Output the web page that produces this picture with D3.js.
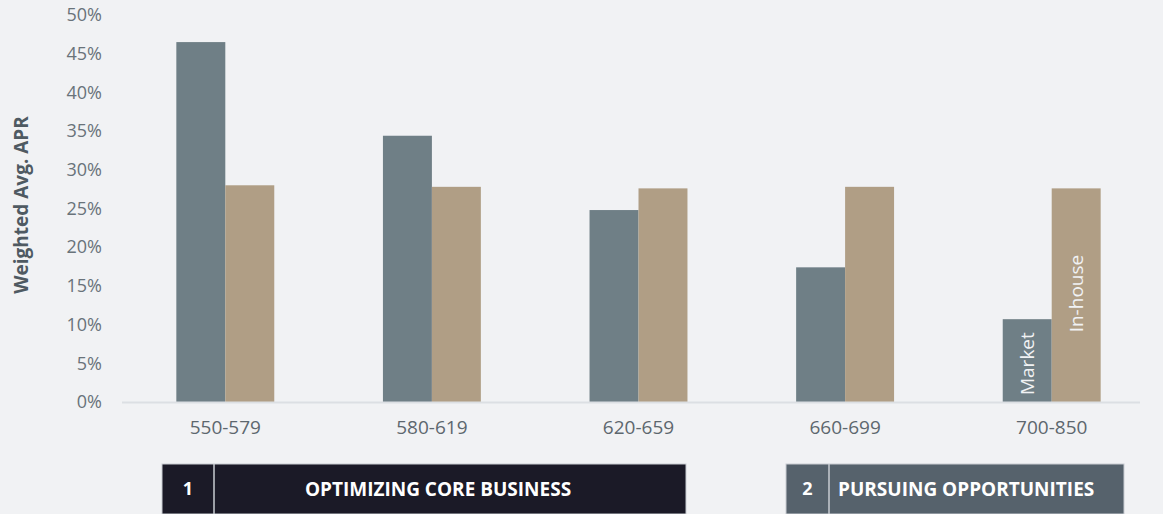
<!DOCTYPE html>
<html>
<head>
<meta charset="utf-8">
<script src="https://cdn.jsdelivr.net/npm/d3@7"></script>
<style>
  html, body { margin: 0; padding: 0; background: #f1f2f4; }
  svg { display: block; font-family: "Open Sans", "Noto Sans", sans-serif; }
</style>
</head>
<body>
<svg id="chart" width="1163" height="514"></svg>
<script>
// Credit score bands and weighted average APR (%) per source
const categories = ["550-579", "580-619", "620-659", "660-699", "700-850"];
const seriesNames = ["Market", "In-house"];
const marketValues = [46.5, 34.4, 24.8, 17.4, 10.7];
const inHouseValues = [28.0, 27.8, 27.6, 27.8, 27.6];
const yTicks = [0, 5, 10, 15, 20, 25, 30, 35, 40, 45, 50];

// Strategy groupings shown beneath the axis
const groupNumbers = ["1", "2"];
const groupTitles = ["OPTIMIZING CORE BUSINESS", "PURSUING OPPORTUNITIES"];

const colors = { "Market": "#6f7f86", "In-house": "#b09e85" };

const svg = d3.select("#chart");

const x0 = d3.scaleBand()
  .domain(categories)
  .range([122, 1155])
  .paddingInner(0.526)
  .paddingOuter(0.263);

const x1 = d3.scaleBand()
  .domain(seriesNames)
  .range([0, x0.bandwidth()]);

const y = d3.scaleLinear().domain([0, 50]).range([402, 15]);

const rows = categories.map((c, i) => ({
  category: c,
  values: [
    { key: "Market", value: marketValues[i] },
    { key: "In-house", value: inHouseValues[i] }
  ]
}));

// Y axis tick labels (no axis line)
const yAxis = svg.append("g")
  .attr("transform", "translate(102,0)")
  .call(d3.axisLeft(y).tickValues(yTicks).tickFormat(d => d + "%").tickSize(0).tickPadding(0));
yAxis.select(".domain").remove();
yAxis.selectAll("text")
  .attr("fill", "#69737a")
  .style("font-size", "18px")
  .style("font-family", "'Open Sans', sans-serif");

// Y axis title
svg.append("text")
  .attr("transform", "translate(21,205) rotate(-90)")
  .attr("text-anchor", "middle")
  .attr("dy", "0.35em")
  .attr("fill", "#4f5a62")
  .style("font-size", "19px")
  .style("font-weight", "700")
  .text("Weighted Avg. APR");

// Bars
const groups = svg.append("g").selectAll("g")
  .data(rows)
  .join("g")
  .attr("transform", d => `translate(${x0(d.category)},0)`);

groups.selectAll("rect")
  .data(d => d.values)
  .join("rect")
  .attr("x", d => x1(d.key))
  .attr("y", d => y(d.value))
  .attr("width", x1.bandwidth())
  .attr("height", d => y(0) - y(d.value))
  .attr("fill", d => colors[d.key]);

// Baseline
svg.append("line")
  .attr("x1", 122).attr("x2", 1140)
  .attr("y1", y(0) + 0.5).attr("y2", y(0) + 0.5)
  .attr("stroke", "#dcdfe3")
  .attr("stroke-width", 2);

// X axis labels
const xAxis = svg.append("g")
  .attr("transform", `translate(0,${y(0) + 18})`)
  .call(d3.axisBottom(x0).tickSize(0).tickPadding(0));
xAxis.select(".domain").remove();
xAxis.selectAll("text")
  .attr("fill", "#5d676e")
  .style("font-size", "19px")
  .style("font-family", "'Open Sans', sans-serif");

// In-bar series labels on the last category
const last = rows[rows.length - 1];
const labelOffsets = { "Market": 0.9, "In-house": 9.0 };
svg.append("g")
  .attr("transform", `translate(${x0(last.category)},0)`)
  .selectAll("text")
  .data(last.values)
  .join("text")
  .attr("transform", d => `translate(${x1(d.key) + x1.bandwidth() / 2},${y(labelOffsets[d.key])}) rotate(-90)`)
  .attr("dy", "0.35em")
  .attr("text-anchor", "start")
  .attr("fill", "#f1f2f4")
  .style("font-size", "19px")
  .text(d => d.key);

// Group banners
const banners = [
  { num: groupNumbers[0], title: groupTitles[0], x: 162, w: 524, split: 52, textX: 276, fill: "#1b1a27", anchor: "middle" },
  { num: groupNumbers[1], title: groupTitles[1], x: 786, w: 338, split: 43, textX: 52, fill: "#56626c", anchor: "start" }
];

const bannerG = svg.append("g").selectAll("g")
  .data(banners)
  .join("g")
  .attr("transform", d => `translate(${d.x},464)`);

bannerG.append("rect")
  .attr("width", d => d.w)
  .attr("height", 50)
  .attr("fill", d => d.fill)
  .attr("stroke", "#c9ccd2")
  .attr("stroke-width", 1);

bannerG.append("line")
  .attr("x1", d => d.split).attr("x2", d => d.split)
  .attr("y1", 0).attr("y2", 50)
  .attr("stroke", "#c9ccd2")
  .attr("stroke-width", 1.5);

bannerG.append("text")
  .attr("x", d => d.split / 2)
  .attr("y", 25)
  .attr("dy", "0.35em")
  .attr("text-anchor", "middle")
  .attr("fill", "#ffffff")
  .style("font-size", "18px")
  .style("font-weight", "700")
  .text(d => d.num);

bannerG.append("text")
  .attr("x", d => d.textX)
  .attr("y", 25)
  .attr("dy", "0.35em")
  .attr("text-anchor", d => d.anchor)
  .attr("fill", "#ffffff")
  .style("font-size", "19px")
  .style("font-weight", "700")
  .text(d => d.title);
</script>
</body>
</html>
